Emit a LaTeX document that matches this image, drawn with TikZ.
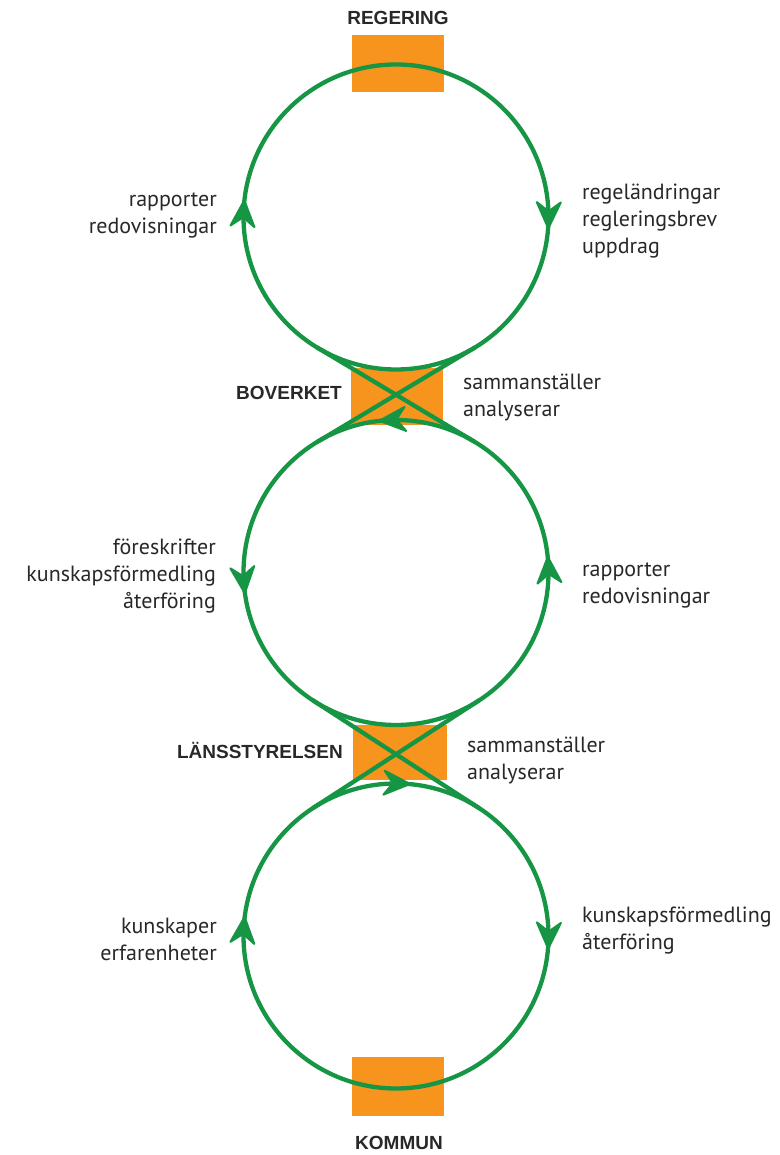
\documentclass[tikz,border=0pt]{standalone}
\usepackage{fontspec}
\setmainfont{PT Sans}
\newfontfamily\titlefont{Liberation Sans}
\usetikzlibrary{calc}
\definecolor{ringgreen}{RGB}{22,150,68}
\definecolor{boxorange}{RGB}{247,148,30}
\definecolor{txt}{RGB}{40,40,40}
\begin{document}
\begin{tikzpicture}[x=1pt,y=1pt,
  ringhead/.pic={\filldraw[ringgreen, line width=2pt, line join=round] (6pt,0pt) -- (-20pt,12pt) -- (-11pt,0pt) -- (-20pt,-12pt) -- cycle;},
  ring/.style={draw=ringgreen, line width=4.3pt, line cap=round},
  box/.style={fill=boxorange, draw=none, minimum width=92pt, minimum height=57pt, inner sep=0pt},
  title/.style={font=\titlefont\fontsize{19}{22}\selectfont\bfseries, text=txt, inner sep=0pt},
  lab/.style={font=\fontsize{22}{27}\selectfont, text=txt, inner sep=0pt}
]
\useasboundingbox (0,0) rectangle (779,1155);
% boxes
\node[box] (regering) at (398,1091) {};
\node[box] (boverket) at (397,758) {};
\node[box, minimum width=94pt, minimum height=55pt] (lans) at (400,402.5) {};
\node[box, minimum height=59pt] (kommun) at (397.5,68.5) {};
% circle centres
\coordinate (c1) at (396,938);
\coordinate (c2) at (396,582.5);
\coordinate (c3) at (396,219);
% circles
\draw[ring] (c1) circle[radius=152.5];
\draw[ring] (c2) circle[radius=152.5];
\draw[ring] (c3) circle[radius=152.5];
% crossing tangents
\coordinate (t1r) at ($(c1)+(-59.1:152.5)$);
\coordinate (t1l) at ($(c1)+(-120.9:152.5)$);
\coordinate (t2ur) at ($(c2)+(59.1:152.5)$);
\coordinate (t2ul) at ($(c2)+(120.9:152.5)$);
\coordinate (t2lr) at ($(c2)+(-57:152.5)$);
\coordinate (t2ll) at ($(c2)+(-123:152.5)$);
\coordinate (t3ur) at ($(c3)+(57:152.5)$);
\coordinate (t3ul) at ($(c3)+(123:152.5)$);
\draw[ring] (t1r) -- (t2ul);
\draw[ring] (t1l) -- (t2ur);
\draw[ring] (t2lr) -- (t3ul);
\draw[ring] (t2ll) -- (t3ur);
% arrowheads: circle 1 clockwise
\pic[rotate=-91] at ($(c1)+(-2:152.5)$) {ringhead};
\pic[rotate=86] at ($(c1)+(176:152.5)$) {ringhead};
% circle 2 counter-clockwise
\pic[rotate=184] at ($(c2)+(94:152.5)$) {ringhead};
\pic[rotate=275.5] at ($(c2)+(185.5:152.5)$) {ringhead};
\pic[rotate=93.6] at ($(c2)+(3.6:152.5)$) {ringhead};
% circle 3 clockwise
\pic[rotate=-3] at ($(c3)+(87:152.5)$) {ringhead};
\pic[rotate=-91.5] at ($(c3)+(-2.5:152.5)$) {ringhead};
\pic[rotate=85.1] at ($(c3)+(175.1:152.5)$) {ringhead};
% titles
\node[title] (tReg) at (398,1137) {REGERING};
\node[title, anchor=east] (tBov) at (342,762) {BOVERKET};
\node[title, anchor=east] (tLan) at (343,405) {LÄNSSTYRELSEN};
\node[title] (tKom) at (399,12) {KOMMUN};
% labels
\node[lab, anchor=east, align=right] (l1) at (217,939) {rapporter\\redovisningar};
\node[lab, anchor=west, align=left] (r1) at (582,934) {regeländringar\\regleringsbrev\\uppdrag};
\node[lab, anchor=west, align=left] (b1) at (463,757) {sammanställer\\analyserar};
\node[lab, anchor=east, align=right] (l2) at (216,579) {föreskrifter\\kunskapsförmedling\\återföring};
\node[lab, anchor=west, align=left] (r2) at (582,570) {rapporter\\redovisningar};
\node[lab, anchor=west, align=left] (b2) at (467,394) {sammanställer\\analyserar};
\node[lab, anchor=east, align=right] (l3) at (217,216) {kunskaper\\erfarenheter};
\node[lab, anchor=west, align=left] (r3) at (582,224) {kunskapsförmedling\\återföring};
\end{tikzpicture}
\end{document}
